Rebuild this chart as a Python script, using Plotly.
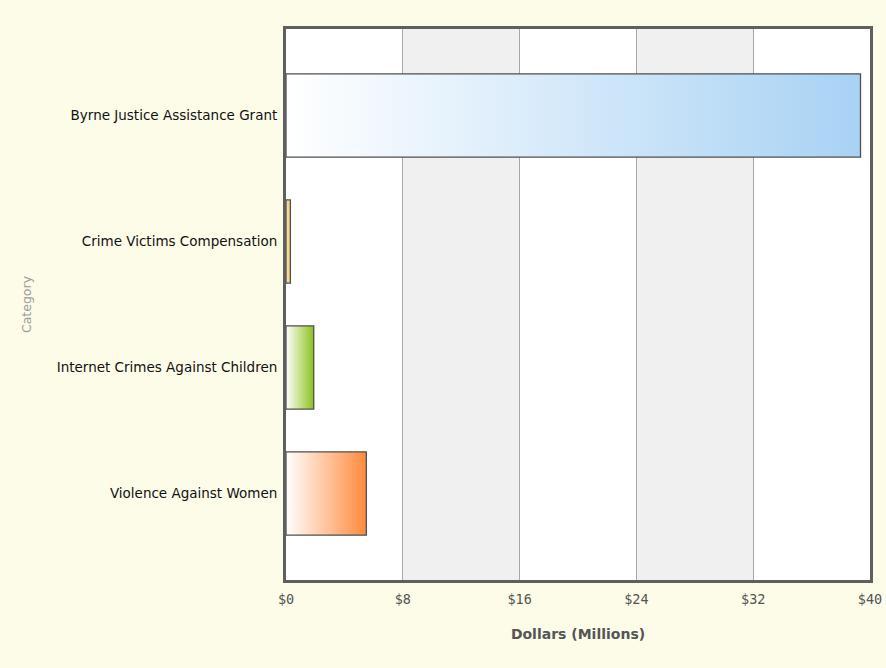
import plotly.graph_objects as go

# Funding by program, in millions of dollars
categories = [
    "Byrne Justice Assistance Grant",
    "Crime Victims Compensation",
    "Internet Crimes Against Children",
    "Violence Against Women",
]
values = [39.35, 0.3, 1.9, 5.5]
start_colors = ["#ffffff", "#f8e2a8", "#ffffff", "#ffffff"]
end_colors = ["#a8d2f4", "#f0cd72", "#8cc21c", "#ff8a3c"]

x_ticks = [0, 8, 16, 24, 32, 40]
x_tick_labels = ["$0", "$8", "$16", "$24", "$32", "$40"]

BAR_HALF = 0.33

fig = go.Figure()

for i, (cat, val, c0, c1) in enumerate(zip(categories, values, start_colors, end_colors)):
    fig.add_trace(go.Scatter(
        x=[0, val, val, 0, 0],
        y=[i - BAR_HALF, i - BAR_HALF, i + BAR_HALF, i + BAR_HALF, i - BAR_HALF],
        mode="lines",
        fill="toself",
        fillgradient=dict(type="horizontal",
                          colorscale=[[0, c0], [1, c1]]),
        line=dict(color="#4f4f4f", width=1.3),
        name=cat,
        hoverinfo="text",
        text=f"{cat}: ${val}M",
        showlegend=False,
    ))

# alternating shaded bands between grid lines
shapes = []
for k in range(1, len(x_ticks) - 1, 2):
    shapes.append(dict(
        type="rect", xref="x", yref="paper",
        x0=x_ticks[k], x1=x_ticks[k + 1], y0=0, y1=1,
        fillcolor="#f0f0f0", line=dict(width=0), layer="below",
    ))

fig.update_layout(
    width=886, height=668,
    margin=dict(l=286, r=16, t=29, b=88),
    paper_bgcolor="#fdfce9",
    plot_bgcolor="#ffffff",
    shapes=shapes,
    xaxis=dict(
        range=[0, 40], automargin=False,
        tickvals=x_ticks, ticktext=x_tick_labels,
        showgrid=True, gridcolor="#a8a8a8", gridwidth=1,
        zeroline=False,
        showline=True, linecolor="#5f5f5f", linewidth=3, mirror=True,
        ticks="", ticklen=0, ticklabelstandoff=5,
        tickfont=dict(family="DejaVu Sans Mono", size=13.5, color="#555555"),
        title=dict(text="<b>Dollars (Millions)</b>", standoff=23,
                   font=dict(family="DejaVu Sans", size=14, color="#555555")),
    ),
    yaxis=dict(
        range=[3.686, -0.686], automargin=False,
        tickvals=list(range(len(categories))), ticktext=categories,
        showgrid=False, zeroline=False,
        showline=True, linecolor="#5f5f5f", linewidth=3, mirror=True,
        ticks="", ticklen=0, ticklabelstandoff=3,
        tickfont=dict(family="DejaVu Sans", size=13.5, color="#111111"),
        title=dict(text="Category", standoff=23,
                   font=dict(family="DejaVu Sans", size=12.5, color="#9a9a9a")),
    ),
)

fig.write_html("out.html")
